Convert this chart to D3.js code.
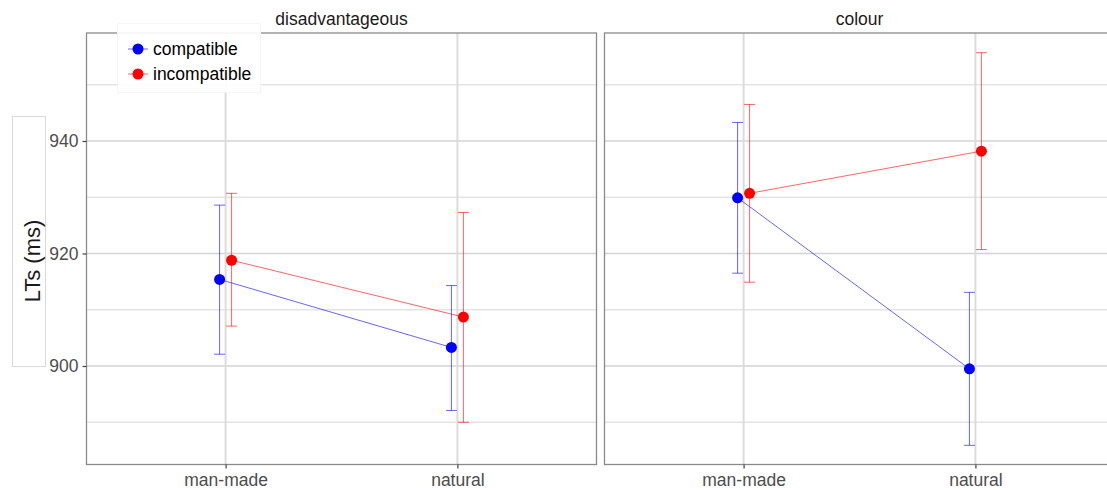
<!DOCTYPE html>
<html>
<head>
<meta charset="utf-8">
<script src="https://cdn.jsdelivr.net/npm/d3@7"></script>
<style>
  html, body { margin: 0; padding: 0; background: #fff; }
  svg { display: block; font-family: "Liberation Sans", Arial, Helvetica, sans-serif; }
</style>
</head>
<body>
<svg id="chart" width="1107" height="490"></svg>
<script>
// Facets, categories and conditions
const facets = ["disadvantageous", "colour"];
const categories = ["man-made", "natural"];
const conditions = ["compatible", "incompatible"];
const conditionColors = ["#0000ff", "#ff0000"];

// Mean LTs (ms), indexed [facet][category]
const compatibleMean = [[915.4, 903.3], [929.9, 899.5]];
const incompatibleMean = [[918.8, 908.7], [930.7, 938.2]];

// Error bar limits, indexed [facet][category]
const compatibleLow = [[902.1, 892.1], [916.5, 885.9]];
const compatibleHigh = [[928.6, 914.3], [943.3, 913.1]];
const incompatibleLow = [[907.1, 890.0], [914.9, 920.7]];
const incompatibleHigh = [[930.7, 927.3], [946.5, 955.7]];

// Axis ticks
const yTicks = [900, 920, 940];
const yMinorTicks = [890, 910, 930, 950];
const yLabel = "LTs (ms)";

const meansByCondition = [compatibleMean, incompatibleMean];
const lowByCondition = [compatibleLow, incompatibleLow];
const highByCondition = [compatibleHigh, incompatibleHigh];

const svg = d3.select("#chart");

// Panel geometry
const panelTop = 33, panelBottom = 464.5, panelWidth = 510;
const panelLefts = [86.5, 604.5];

const y = d3.scaleLinear().domain([882.49, 959.2]).range([panelBottom, panelTop]);
const x = d3.scalePoint().domain(categories).range([0, panelWidth]).padding(0.6);
const dodge = d3.scalePoint().domain(conditions).range([-6, 6]);
const color = d3.scaleOrdinal().domain(conditions).range(conditionColors);

// Build the long-format table
const rows = [];
facets.forEach((f, fi) => {
  categories.forEach((c, ci) => {
    conditions.forEach((g, gi) => {
      rows.push({
        facet: f, fi, category: c, condition: g,
        mean: meansByCondition[gi][fi][ci],
        low: lowByCondition[gi][fi][ci],
        high: highByCondition[gi][fi][ci]
      });
    });
  });
});

// Y title with its frame
svg.append("rect")
  .attr("x", 12.5).attr("y", 116.5).attr("width", 33).attr("height", 250)
  .attr("fill", "none").attr("stroke", "#dadada").attr("stroke-width", 1);
svg.append("text")
  .attr("transform", "translate(40,261) rotate(-90)")
  .attr("text-anchor", "middle")
  .attr("font-size", "22px")
  .attr("fill", "#1a1a1a")
  .text(yLabel);

facets.forEach((f, fi) => {
  const g = svg.append("g").attr("transform", `translate(${panelLefts[fi]},0)`);

  // Grid
  g.selectAll(".minor").data(yMinorTicks).join("line")
    .attr("x1", 0).attr("x2", panelWidth)
    .attr("y1", d => y(d)).attr("y2", d => y(d))
    .attr("stroke", "#e4e4e4").attr("stroke-width", 1.5);
  g.selectAll(".major").data(yTicks).join("line")
    .attr("x1", 0).attr("x2", panelWidth)
    .attr("y1", d => y(d)).attr("y2", d => y(d))
    .attr("stroke", "#d3d3d3").attr("stroke-width", 1.6);
  g.selectAll(".vgrid").data(categories).join("line")
    .attr("x1", d => x(d)).attr("x2", d => x(d))
    .attr("y1", panelTop).attr("y2", panelBottom)
    .attr("stroke", "#dcdcdc").attr("stroke-width", 2);

  // Panel border
  g.append("rect")
    .attr("x", 0).attr("y", panelTop)
    .attr("width", panelWidth).attr("height", panelBottom - panelTop)
    .attr("fill", "none").attr("stroke", "#8a8a8a").attr("stroke-width", 1.3);

  // Strip label
  g.append("text")
    .attr("x", panelWidth / 2).attr("y", 25)
    .attr("text-anchor", "middle")
    .attr("font-size", "17.5px").attr("fill", "#1a1a1a")
    .text(f);

  // X axis ticks and labels
  const xAxis = d3.axisBottom(x).tickSize(4).tickPadding(6);
  const ax = g.append("g").attr("transform", `translate(0,${panelBottom})`).call(xAxis);
  ax.select(".domain").remove();
  ax.selectAll(".tick line").attr("stroke", "#444").attr("stroke-width", 1.2);
  ax.selectAll(".tick text")
    .attr("font-size", "17.5px").attr("fill", "#4d4d4d")
    .attr("font-family", "Liberation Sans, Arial, sans-serif")
    .attr("dy", null).attr("y", 21.5);

  const data = rows.filter(r => r.fi === fi);

  // Connecting lines
  conditions.forEach(cond => {
    const pts = data.filter(r => r.condition === cond);
    g.append("path")
      .datum(pts)
      .attr("d", d3.line().x(r => x(r.category) + dodge(r.condition)).y(r => y(r.mean)))
      .attr("fill", "none")
      .attr("stroke", color(cond)).attr("stroke-opacity", 0.6).attr("stroke-width", 1);
  });

  // Error bars
  const eb = g.selectAll(".eb").data(data).join("g")
    .attr("stroke", r => color(r.condition)).attr("stroke-opacity", 0.6).attr("stroke-width", 1);
  eb.append("line")
    .attr("x1", r => x(r.category) + dodge(r.condition))
    .attr("x2", r => x(r.category) + dodge(r.condition))
    .attr("y1", r => y(r.low)).attr("y2", r => y(r.high));
  eb.append("line")
    .attr("x1", r => x(r.category) + dodge(r.condition) - 5.5)
    .attr("x2", r => x(r.category) + dodge(r.condition) + 5.5)
    .attr("y1", r => y(r.high)).attr("y2", r => y(r.high));
  eb.append("line")
    .attr("x1", r => x(r.category) + dodge(r.condition) - 5.5)
    .attr("x2", r => x(r.category) + dodge(r.condition) + 5.5)
    .attr("y1", r => y(r.low)).attr("y2", r => y(r.low));

  // Points
  g.selectAll(".pt").data(data).join("circle")
    .attr("cx", r => x(r.category) + dodge(r.condition))
    .attr("cy", r => y(r.mean))
    .attr("r", 5.5)
    .attr("fill", r => color(r.condition));
});

// Y axis on the first panel
const yAxis = d3.axisLeft(y).tickValues(yTicks).tickSize(4).tickPadding(4);
const ay = svg.append("g").attr("transform", `translate(${panelLefts[0]},0)`).call(yAxis);
ay.select(".domain").remove();
ay.selectAll(".tick line").attr("stroke", "#444").attr("stroke-width", 1.2);
ay.selectAll(".tick text")
  .attr("font-size", "17.5px").attr("fill", "#4d4d4d")
  .attr("font-family", "Liberation Sans, Arial, sans-serif");

// Legend
const legend = svg.append("g");
legend.append("rect")
  .attr("x", 117.5).attr("y", 23.5).attr("width", 143).attr("height", 69)
  .attr("fill", "#fff").attr("fill-opacity", 0.9)
  .attr("stroke", "#f5f5f5").attr("stroke-width", 1);
const items = legend.selectAll(".item").data(conditions).join("g")
  .attr("transform", (d, i) => `translate(0,${49 + i * 25})`);
items.append("line")
  .attr("x1", 128).attr("x2", 148).attr("y1", 0).attr("y2", 0)
  .attr("stroke", d => color(d)).attr("stroke-opacity", 0.6).attr("stroke-width", 1);
items.append("circle")
  .attr("cx", 138).attr("cy", 0).attr("r", 5.5)
  .attr("fill", d => color(d));
items.append("text")
  .attr("x", 153).attr("y", 6)
  .attr("font-size", "17.5px").attr("fill", "#000")
  .text(d => d);
</script>
</body>
</html>
